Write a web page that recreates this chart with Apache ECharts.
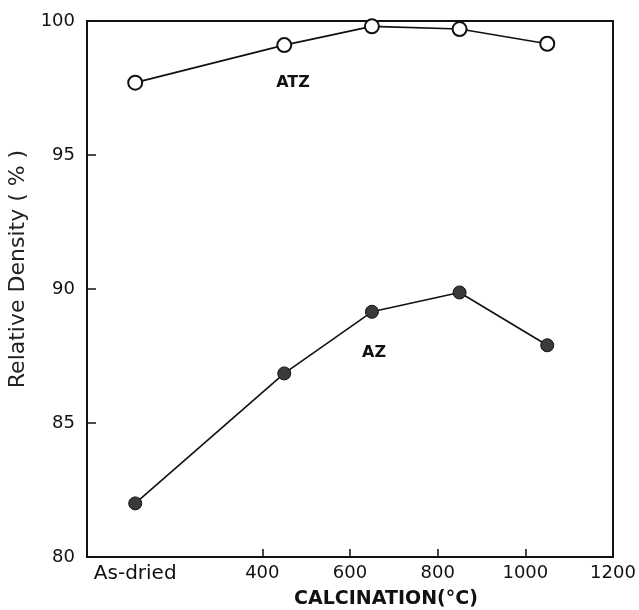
<!DOCTYPE html>
<html>
<head>
<meta charset="utf-8">
<script src="https://cdn.jsdelivr.net/npm/echarts@6/dist/echarts.min.js"></script>
<style>
  html, body { margin: 0; padding: 0; background: #fff; }
  #chart { width: 639px; height: 610px; }
</style>
</head>
<body>
<div id="chart"></div>
<script>
// calcination temperature (As-dried drawn at ~110)
var temps = [110, 450, 650, 850, 1050]
var atz = [97.7, 99.1, 99.8, 99.7, 99.15]
var az = [82.0, 86.85, 89.15, 89.87, 87.9]
var xLabelValues = [110, 400, 600, 800, 1000, 1200]
var xTickValues = [400, 600, 800, 1000]

var chart = echarts.init(document.getElementById('chart'))
var font = 'DejaVu Sans'

function pairs (ys) {
  return temps.map(function (t, i) { return [t, ys[i]] })
}

var option = {
  animation: false,
  // box frame round the plot
  grid: {
    left: 87, right: 26, top: 21, bottom: 53,
    outerBoundsMode: 'none',
    show: true, borderColor: '#111', borderWidth: 2, backgroundColor: 'transparent'
  },
  xAxis: {
    type: 'value',
    min: 0,
    max: 1200,
    interval: 200,
    name: 'CALCINATION(°C)',
    nameLocation: 'middle',
    nameGap: 33,
    nameTextStyle: { fontFamily: font, fontSize: 19, fontWeight: 'bold', color: '#111', padding: [0, 0, 0, 72] },
    axisLine: { show: true, lineStyle: { color: '#111', width: 2 } },
    axisTick: { show: true, inside: true, length: 8, customValues: xTickValues, lineStyle: { color: '#111', width: 1.5 } },
    axisLabel: {
      customValues: xLabelValues,
      fontFamily: font, fontSize: 18, color: '#111', margin: 7,
      formatter: function (v) { return v === 110 ? '{d|As-dried}' : v },
      rich: { d: { fontFamily: font, fontSize: 20, color: '#111' } }
    },
    splitLine: { show: false }
  },
  yAxis: {
    type: 'value',
    min: 80,
    max: 100,
    interval: 5,
    name: 'Relative Density ( % )',
    nameLocation: 'middle',
    nameGap: 55,
    nameTextStyle: { fontFamily: font, fontSize: 22, color: '#222', padding: [0, 0, 0, 40] },
    axisLine: { show: true, lineStyle: { color: '#111', width: 2 } },
    axisTick: { show: true, inside: true, length: 9, lineStyle: { color: '#111', width: 1.5 } },
    axisLabel: { fontFamily: font, fontSize: 18, color: '#111', margin: 12 },
    splitLine: { show: false }
  },
  series: [
    {
      name: 'ATZ',
      type: 'line',
      data: pairs(atz),
      symbol: 'circle',
      symbolSize: 14,
      itemStyle: { color: '#fff', borderColor: '#111', borderWidth: 2 },
      lineStyle: { color: '#111', width: 1.6 },
      markPoint: {
        symbol: 'rect', symbolSize: 0,
        label: { show: true, formatter: 'ATZ', fontFamily: font, fontWeight: 'bold', fontSize: 16, color: '#111' },
        data: [{ coord: [470, 97.7] }]
      }
    },
    {
      name: 'AZ',
      type: 'line',
      data: pairs(az),
      symbol: 'circle',
      symbolSize: 13,
      itemStyle: { color: '#3a3a3a', borderColor: '#111', borderWidth: 1 },
      lineStyle: { color: '#111', width: 1.6 },
      markPoint: {
        symbol: 'rect', symbolSize: 0,
        label: { show: true, formatter: 'AZ', fontFamily: font, fontWeight: 'bold', fontSize: 16, color: '#111' },
        data: [{ coord: [655, 87.6] }]
      }
    }
  ]
}
chart.setOption(option)
</script>
</body>
</html>
